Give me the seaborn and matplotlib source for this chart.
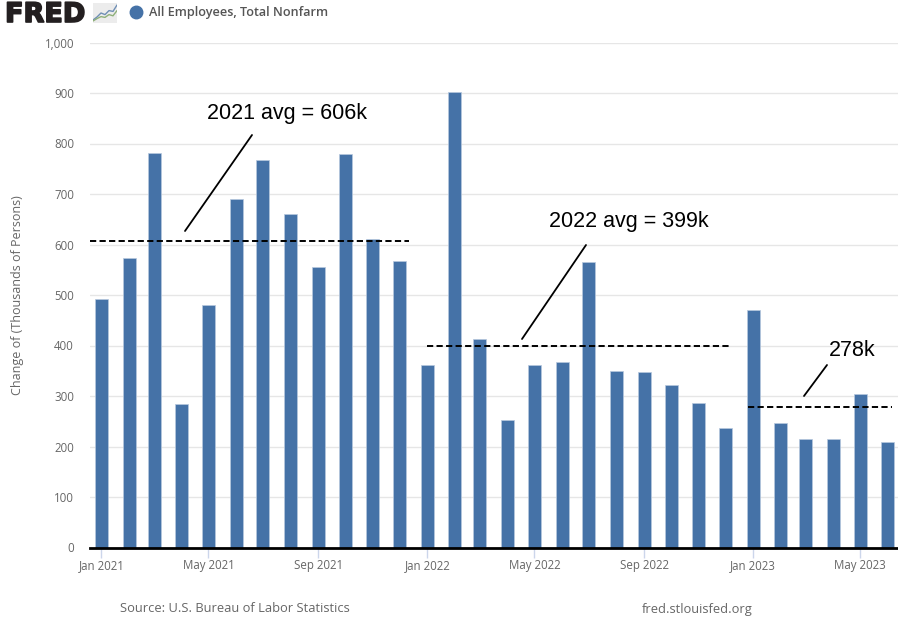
import matplotlib
matplotlib.use("Agg")
import matplotlib.pyplot as plt
import matplotlib.dates as mdates
import matplotlib.patheffects as pe
from matplotlib.lines import Line2D
import pandas as pd
import seaborn as sns

months = pd.date_range("2021-01-01", "2023-06-01", freq="MS")
job_change = [493, 574, 782, 285, 481, 691, 767, 661, 556, 780, 611, 568,
              362, 902, 412, 252, 362, 368, 566, 350, 347, 322, 287, 237,
              470, 246, 214, 214, 304, 208]
averages = [
    ("2020-12-19", "2021-12-11", 606, "2021 avg = 606k"),
    ("2022-01-01", "2022-12-05", 399, "2022 avg = 399k"),
    ("2022-12-26", "2023-06-06", 278, "278k"),
]
y_ticks = list(range(0, 1001, 100))
x_tick_dates = pd.to_datetime(["2021-01-01", "2021-05-01", "2021-09-01", "2022-01-01",
                               "2022-05-01", "2022-09-01", "2023-01-01", "2023-05-01"])
logo_blue = [0.15, 0.3, 0.5, 0.42, 0.62, 0.58, 0.9]
logo_green = [0.1, 0.22, 0.32, 0.28, 0.42, 0.36, 0.62]

W, H = 898, 618
BAR = "#4572a7"
GREY = "#666666"
sns.set_theme(style="white", rc={"font.family": ["Open Sans", "DejaVu Sans"]})


def fx(px):
    return px / W


def fy(py):
    return 1 - py / H


fig = plt.figure(figsize=(W / 100, H / 100), dpi=100, facecolor="white")
ax = fig.add_axes([fx(90), fy(547.5), fx(898 - 90), (547.5 - 42.5) / H])

frame = pd.DataFrame({"date": mdates.date2num(months), "change": job_change})
sns.barplot(data=frame, x="date", y="change", native_scale=True, width=0.52,
            color=BAR, saturation=1, edgecolor="#b7c8de", linewidth=0.5, ax=ax, zorder=2)

# Date scale: 0.8906 px per day, with Jan 2021 sitting 11 px in from the left edge
origin = mdates.date2num(pd.Timestamp("2021-01-01"))
ax.set_ylim(0, 1000)
ax.set_xticks(mdates.date2num(x_tick_dates))
ax.set_xticklabels([d.strftime("%b %Y") for d in x_tick_dates])
ax.set_yticks(y_ticks)
ax.set_yticklabels([f"{v:,}" for v in y_ticks])
ax.set_xlabel("")
ax.set_ylabel("Change of (Thousands of Persons)", color=GREY, fontsize=9.0)
ax.yaxis.set_label_coords((24 - 90) / (898 - 90), 0.5)
ax.tick_params(axis="x", length=7, width=1, color="#ccd6eb", labelcolor=GREY,
               labelsize=8.3, pad=1.5, bottom=True)
ax.tick_params(axis="y", length=0, labelcolor=GREY, labelsize=8.3, pad=11.5)
ax.grid(axis="y", color="#e6e6e6", linewidth=1)
ax.set_axisbelow(True)
for side in ("top", "right", "left"):
    ax.spines[side].set_visible(False)
ax.spines["bottom"].set_color("black")
ax.spines["bottom"].set_linewidth(2.0)
ax.spines["bottom"].set_zorder(5)

# Annual average guides
for start, end, value, _ in averages:
    x0 = mdates.date2num(pd.Timestamp(start))
    x1 = mdates.date2num(pd.Timestamp(end))
    ax.plot([x0, x1], [value, value], color="black", linewidth=1.4,
            linestyle=(0, (3.2, 1.7)), zorder=4)

ax.set_xlim(origin - 12.7, origin + 892.2)

# Callout leaders and their labels
leaders = [((185, 231), (252, 135)), ((522, 339), (586, 245)), ((804, 396), (827, 365))]
label_pos = [(207, 113), (549, 221), (829, 351)]
for (a, b), (tx, ty), (_, _, _, label) in zip(leaders, label_pos, averages):
    fig.add_artist(Line2D([fx(a[0]), fx(b[0])], [fy(a[1]), fy(b[1])],
                          color="black", linewidth=1.3))
    fig.text(fx(tx), fy(ty), label, family="Liberation Sans", fontsize=15.5,
             color="black", ha="left", va="center")

# FRED masthead
fig.text(fx(5), fy(15), "FRED", family="DejaVu Sans", fontweight="bold", fontsize=19.5,
         color="#231f20", ha="left", va="center",
         path_effects=[pe.withStroke(linewidth=1.2, foreground="#231f20")])
icon = fig.add_axes([fx(93), fy(23), fx(24), 20 / H], facecolor="#ececec")
icon.plot(logo_blue, color="#6f8fb5", linewidth=1)
icon.plot(logo_green, color="#8fb07a", linewidth=1)
icon.set_ylim(0, 1)
icon.set_xlim(0, 6)
icon.set_xticks([])
icon.set_yticks([])
for spine in icon.spines.values():
    spine.set_visible(False)

fig.legend(handles=[Line2D([], [], marker="o", linestyle="none", markersize=9, color=BAR)],
           labels=["All Employees, Total Nonfarm"], loc="center left",
           bbox_to_anchor=(fx(123), fy(12.5)), frameon=False, handletextpad=0.1,
           prop={"family": "Open Sans", "size": 9.05, "weight": "semibold"},
           labelcolor="#555555", borderaxespad=0, borderpad=0)

fig.text(fx(120), fy(609), "Source: U.S. Bureau of Labor Statistics", fontsize=9.27,
         color=GREY, ha="left", va="center")
fig.text(fx(642), fy(609), "fred.stlouisfed.org", fontsize=9.3,
         color=GREY, ha="left", va="center")

fig.savefig("out.png", dpi=100, facecolor="white")
